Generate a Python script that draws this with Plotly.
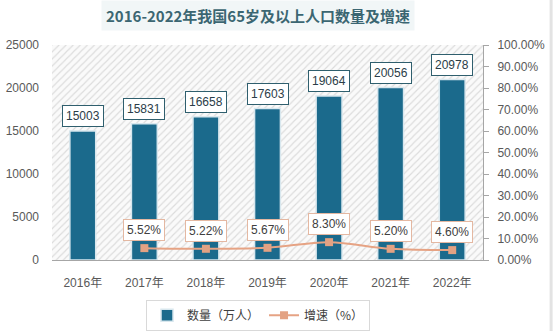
import plotly.graph_objects as go

# Data
years = ["2016年", "2017年", "2018年", "2019年", "2020年", "2021年", "2022年"]
population = [15003, 15831, 16658, 17603, 19064, 20056, 20978]   # 万人
growth = [None, 0.0552, 0.0522, 0.0567, 0.0830, 0.0520, 0.0460]  # 增速
growth_text = ["", "5.52%", "5.22%", "5.67%", "8.30%", "5.20%", "4.60%"]

BAR_COLOR = "#1b6a8c"
LINE_COLOR = "#e6a384"
FONT = "Liberation Sans, Arial, Noto Sans CJK SC, sans-serif"

xs = list(range(len(years)))

fig = go.Figure()

# hatched plot background
fig.add_trace(go.Bar(
    x=[3], y=[25000], width=[7], showlegend=False, hoverinfo="skip",
    marker=dict(color="white", line=dict(width=0),
                pattern=dict(shape="/", fgcolor="#bcbcbc", bgcolor="#fafafa",
                             size=5, solidity=0.22)),
))

fig.add_trace(go.Bar(
    x=xs, y=population, width=0.42, name="数量（万人）",
    marker=dict(color=BAR_COLOR, line=dict(color="#d8e7ee", width=1.5)),
))

fig.add_trace(go.Scatter(
    x=xs, y=growth, yaxis="y2", name="增速（%）", mode="lines+markers",
    line=dict(color=LINE_COLOR, width=2, shape="spline"),
    marker=dict(symbol="square", size=8, color="#e3a283"),
    connectgaps=False,
))

annotations = []
for x, v in zip(xs, population):
    annotations.append(dict(
        x=x, y=v, xref="x", yref="y", text=str(v), showarrow=False,
        yanchor="bottom", yshift=4,
        font=dict(family=FONT, size=12, color="#2b3d48"),
        bgcolor="white", bordercolor="#2f5f6e", borderwidth=1, borderpad=3,
    ))
for x, g, t in zip(xs, growth, growth_text):
    if g is None:
        continue
    annotations.append(dict(
        x=x, y=g, xref="x", yref="y2", text=t, showarrow=False,
        yanchor="bottom", yshift=7,
        font=dict(family=FONT, size=12, color="#404040"),
        bgcolor="white", bordercolor="#e4b8a2", borderwidth=1, borderpad=3,
    ))

# title with pale band behind it
annotations.append(dict(
    x=0.478, y=1.135, xref="paper", yref="paper",
    text="<b>2016-2022年我国65岁及以上人口数量及增速</b>", showarrow=False,
    xanchor="center", yanchor="middle",
    font=dict(family="Noto Sans CJK SC, sans-serif", size=15, color="#3b6672"),
    bgcolor="#f1f6f7", borderpad=4,
))

fig.update_layout(
    width=553, height=331,
    margin=dict(l=52, r=70, t=45, b=71, autoexpand=False),
    paper_bgcolor="white", plot_bgcolor="white",
    barmode="overlay",
    font=dict(family=FONT, size=12, color="#595959"),
    xaxis=dict(
        range=[-0.5, 6.5], tickvals=xs, ticktext=years,
        showgrid=False, zeroline=False, showline=True,
        linecolor="#a6a6a6", linewidth=1, ticks="", ticklabelstandoff=12,
    ),
    yaxis=dict(
        range=[0, 25000], dtick=5000, showgrid=False, zeroline=False,
        showline=False, ticks="", ticklabelstandoff=12, tickformat="d",
    ),
    yaxis2=dict(
        overlaying="y", side="right", range=[0, 1], dtick=0.1,
        tickformat=".2%", showgrid=False, zeroline=False,
        showline=True, linecolor="#a6a6a6", linewidth=1,
        ticks="outside", ticklen=5, tickcolor="#a6a6a6", ticklabelstandoff=6,
    ),
    legend=dict(
        orientation="h", x=0.478, y=-0.185, xanchor="center", yanchor="top",
        bordercolor="#d9d9d9", borderwidth=1, bgcolor="white",
        font=dict(family="Noto Sans CJK SC, sans-serif", size=12, color="#404040"),
        itemwidth=30,
    ),
    annotations=annotations,
    shapes=[dict(type="line", xref="paper", yref="paper",
                 x0=1.158, x1=1.158, y0=-0.33, y1=1.21,
                 line=dict(color="#e3e3e3", width=3))],
)

fig.write_html("out.html")
